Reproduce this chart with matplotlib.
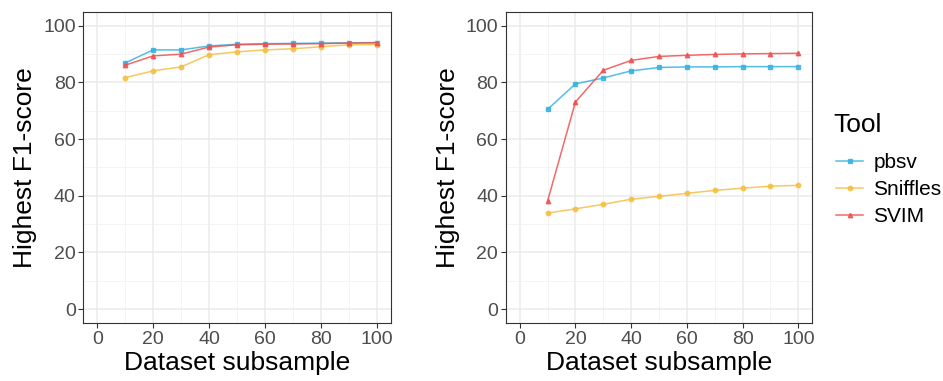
import matplotlib.pyplot as plt
from matplotlib.lines import Line2D
from matplotlib.ticker import MultipleLocator

plt.rcParams['font.family'] = ['Liberation Sans', 'DejaVu Sans']

# Data
subsample = [10, 20, 30, 40, 50, 60, 70, 80, 90, 100]
tools = ['pbsv', 'Sniffles', 'SVIM']

left_pbsv = [86.9, 91.5, 91.5, 92.9, 93.5, 93.7, 93.8, 93.9, 94.0, 94.1]
left_sniffles = [81.7, 84.1, 85.5, 89.8, 90.8, 91.5, 91.9, 92.6, 93.3, 93.4]
left_svim = [86.1, 89.4, 90.0, 92.5, 93.3, 93.5, 93.6, 93.7, 93.9, 94.0]

right_pbsv = [70.5, 79.5, 81.6, 84.1, 85.3, 85.5, 85.5, 85.6, 85.6, 85.6]
right_sniffles = [33.9, 35.4, 37.0, 38.8, 39.8, 40.9, 41.9, 42.7, 43.4, 43.7]
right_svim = [38.1, 73.1, 84.3, 87.8, 89.2, 89.6, 89.9, 90.1, 90.2, 90.3]

colors = {'pbsv': '#35B2E3', 'Sniffles': '#F4C040', 'SVIM': '#EF4F4F'}
markers = {'pbsv': 's', 'Sniffles': 'o', 'SVIM': '^'}

fig = plt.figure(figsize=(9.43, 3.81), dpi=100)
ax1 = fig.add_axes([0.0883, 0.1514, 0.326, 0.818])
ax2 = fig.add_axes([0.5363, 0.1514, 0.3251, 0.818])

panels = [
    (ax1, {'pbsv': left_pbsv, 'Sniffles': left_sniffles, 'SVIM': left_svim}),
    (ax2, {'pbsv': right_pbsv, 'Sniffles': right_sniffles, 'SVIM': right_svim}),
]

for ax, data in panels:
    for t in tools:
        ax.plot(subsample, data[t], color=colors[t], marker=markers[t],
                markersize=3.2, linewidth=1.1, alpha=0.85, zorder=3)
    ax.set_xlim(-5, 105)
    ax.set_ylim(-5, 105)
    ax.xaxis.set_major_locator(MultipleLocator(20))
    ax.yaxis.set_major_locator(MultipleLocator(20))
    ax.xaxis.set_minor_locator(MultipleLocator(10))
    ax.yaxis.set_minor_locator(MultipleLocator(10))
    ax.grid(which='major', color='#EBEBEB', linewidth=1.1, zorder=0)
    ax.grid(which='minor', color='#F2F2F2', linewidth=0.6, zorder=0)
    ax.set_axisbelow(True)
    ax.tick_params(which='major', length=3.5, width=0.8, color='#333333',
                   labelsize=14, labelcolor='#4D4D4D', pad=2)
    ax.tick_params(which='minor', length=0)
    for s in ax.spines.values():
        s.set_color('#333333')
        s.set_linewidth(0.8)
    ax.set_xlabel('Dataset subsample', fontsize=19, labelpad=2)
    ax.set_ylabel('Highest F1-score', fontsize=19, labelpad=4)

# Legend
fig.text(833 / 943, 1 - 125 / 381, 'Tool', fontsize=19, ha='left', va='center')
handles = [Line2D([0], [0], color=colors[t], marker=markers[t], markersize=3.2,
                  linewidth=1.1, alpha=0.85) for t in tools]
fig.legend(handles, tools, loc='upper left', bbox_to_anchor=(836 / 943, 1 - 153 / 381),
           frameon=False, fontsize=15, borderpad=0, borderaxespad=0,
           handlelength=1.3, handletextpad=0.5, labelspacing=0.38)

fig.savefig('out.png', dpi=100)
